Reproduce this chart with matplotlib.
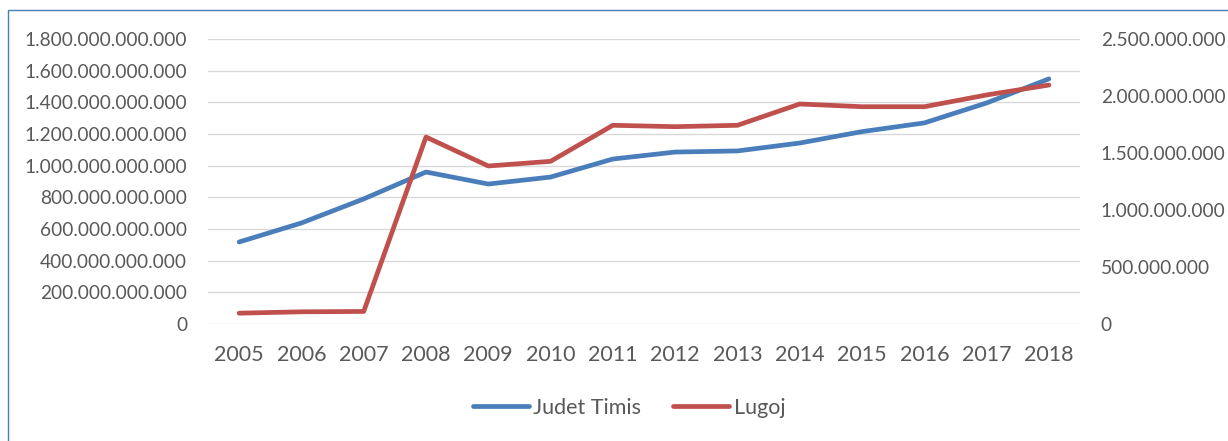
import matplotlib
matplotlib.use("Agg")
import matplotlib.pyplot as plt
from matplotlib.ticker import FuncFormatter, MultipleLocator
from matplotlib.patches import Rectangle
from matplotlib.lines import Line2D

years = [2005, 2006, 2007, 2008, 2009, 2010, 2011, 2012, 2013, 2014, 2015, 2016, 2017, 2018]
judet_timis = [518e9, 638e9, 790e9, 960e9, 884e9, 928e9, 1042e9, 1086e9, 1093e9, 1143e9, 1215e9, 1270e9, 1396e9, 1548e9]
lugoj = [95e6, 107e6, 110e6, 1640e6, 1386e6, 1427e6, 1743e6, 1731e6, 1743e6, 1930e6, 1906e6, 1906e6, 2009e6, 2096e6]
series_names = ["Judet Timis", "Lugoj"]

BLUE = "#4A7EBB"
RED = "#C0504D"
GREY = "#595959"

plt.rcParams['font.family'] = ['Lato', 'DejaVu Sans']

W, H = 1228, 441
fig = plt.figure(figsize=(W / 100, H / 100), dpi=100)

# outer frame (cut off on right/bottom as in reference)
fig.patches.append(Rectangle((8 / W, -0.1), 1.2, 1 - 10 / H + 0.1, transform=fig.transFigure,
                             fill=False, edgecolor=BLUE, linewidth=1.0))

ax = fig.add_axes([208 / W, (H - 324) / H, (1080 - 208) / W, (324 - 39) / H])
ax2 = ax.twinx()

x = list(range(len(years)))
ax.plot(x, judet_timis, color=BLUE, linewidth=3.4, solid_capstyle='round', solid_joinstyle='round', zorder=3)
ax2.plot(x, lugoj, color=RED, linewidth=3.4, solid_capstyle='round', solid_joinstyle='round', zorder=3)

ax.set_xlim(-0.5, len(years) - 0.5)
ax.set_ylim(0, 1.8e12)
ax2.set_ylim(0, 2.5e9)
ax.yaxis.set_major_locator(MultipleLocator(2e11))
ax2.yaxis.set_major_locator(MultipleLocator(5e8))

def fmt(v, pos):
    return f"{int(round(v)):,}".replace(",", ".")

ax.yaxis.set_major_formatter(FuncFormatter(fmt))
ax2.yaxis.set_major_formatter(FuncFormatter(fmt))

ax.set_xticks(x)
ax.set_xticklabels([str(y) for y in years])

ax.grid(axis='y', color='#D9D9D9', linewidth=1.0)
ax.set_axisbelow(True)
for a in (ax, ax2):
    for s in a.spines.values():
        s.set_visible(False)
    a.tick_params(length=0, labelsize=13.8, colors=GREY)
ax.tick_params(axis='y', pad=15)
ax2.tick_params(axis='y', pad=15)
ax.tick_params(axis='x', pad=15, labelsize=15.5)

handles = [Line2D([0], [0], color=BLUE, linewidth=3.4, solid_capstyle='round'),
           Line2D([0], [0], color=RED, linewidth=3.4, solid_capstyle='round')]
fig.legend(handles, series_names, loc='center', bbox_to_anchor=(629 / W, 1 - 408 / H),
           ncol=2, frameon=False, fontsize=15.5, labelcolor=GREY, handlelength=2.6,
           handletextpad=0.2, columnspacing=1.5)

fig.savefig("out.png", dpi=100)
